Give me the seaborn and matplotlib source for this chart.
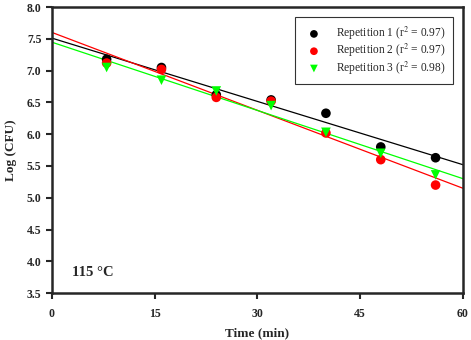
import numpy as np
import pandas as pd
import matplotlib
matplotlib.use("Agg")
import matplotlib.pyplot as plt
import seaborn as sns

# data
time = [8, 16, 24, 32, 40, 48, 56]
rep1 = [7.18, 7.05, 6.62, 6.54, 6.33, 5.80, 5.63]
rep2 = [7.12, 7.02, 6.58, 6.52, 6.02, 5.60, 5.20]
rep3 = [7.05, 6.85, 6.68, 6.45, 6.03, 5.70, 5.36]
labels = ["Repetition 1 (r$^2$ = 0.97)", "Repetition 2 (r$^2$ = 0.97)", "Repetition 3 (r$^2$ = 0.98)"]
colors = ["black", "#ff0000", "#00ff00"]
markers = ["o", "o", "v"]

sns.set_style("ticks")
plt.rcParams["font.family"] = ["Liberation Serif", "DejaVu Serif"]
plt.rcParams["mathtext.fontset"] = "stix"

fig = plt.figure(figsize=(4.71, 3.4), dpi=100)
ax = fig.add_axes([0.110, 0.138, 0.873, 0.841])
ax.set_xlim(0, 60)
ax.set_ylim(3.5, 8.0)

for vals, lab, c, m in zip([rep1, rep2, rep3], labels, colors, markers):
    df = pd.DataFrame({"t": time, "y": vals})
    sns.regplot(data=df, x="t", y="y", ax=ax, ci=None, truncate=False,
                scatter=False, line_kws={"color": c, "lw": 0.9})
    sns.scatterplot(data=df, x="t", y="y", ax=ax, color=c, marker=m,
                    s=48, edgecolor="none", label=lab, zorder=3)

ax.set_xlim(0, 60)
ax.set_ylim(3.5, 8.0)
ax.set_xticks([0, 15, 30, 45, 60])
ax.set_yticks(np.arange(3.5, 8.01, 0.5))
ax.set_yticklabels([f"{v:.1f}" for v in np.arange(3.5, 8.01, 0.5)])
for s in ax.spines.values():
    s.set_linewidth(1.8)
ax.tick_params(width=1.5, length=4, labelsize=8.5)
ax.tick_params(axis="x", pad=7)
for t in ax.get_xticklabels() + ax.get_yticklabels():
    t.set_fontweight("bold")
ax.set_xlabel("Time (min)", fontsize=9.5, fontweight="bold", labelpad=5)
ax.set_ylabel("Log (CFU)", fontsize=9.5, fontweight="bold", labelpad=7)
ax.text(0.05, 0.06, "115 °C", transform=ax.transAxes, fontsize=10.5, fontweight="bold")

leg = ax.legend(loc="upper right", bbox_to_anchor=(0.975, 0.965), fontsize=8.3,
                frameon=True, fancybox=False, handletextpad=0.9, markerscale=0.8,
                borderpad=0.65, labelspacing=0.0, borderaxespad=0)
leg.get_frame().set_edgecolor("black")
leg.get_frame().set_linewidth(0.8)

fig.savefig("out.png", dpi=100)
